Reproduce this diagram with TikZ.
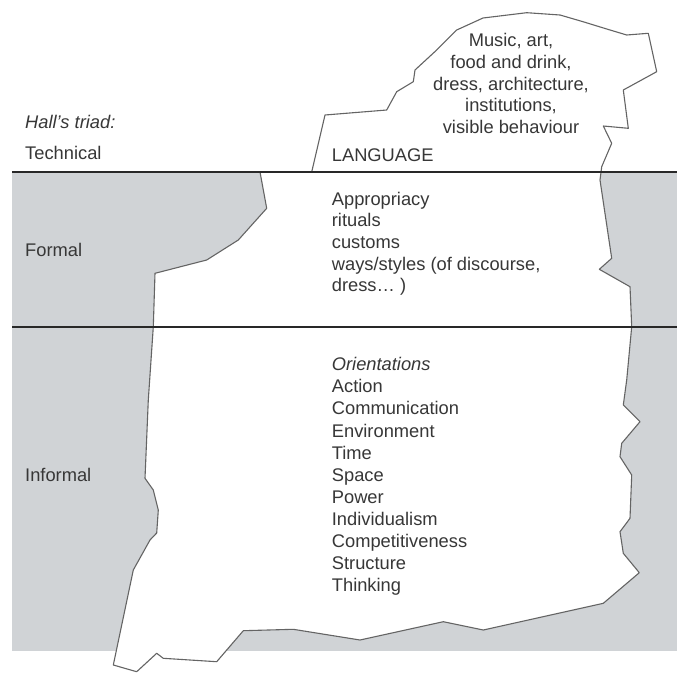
\documentclass[tikz,border=0pt]{standalone}
\usepackage{fontspec}
\setmainfont{Liberation Sans}
\definecolor{seagrey}{RGB}{208,211,214}
\definecolor{txtgrey}{RGB}{55,55,55}
\definecolor{edgegrey}{RGB}{100,100,100}
\definecolor{levelline}{RGB}{40,40,40}
\begin{document}
\begin{tikzpicture}[x=1pt,y=-1pt,
  txt/.style={anchor=base west,inner sep=0pt,text=txtgrey,font=\fontsize{18.3}{21}\selectfont},
  ctxt/.style={anchor=base,inner sep=0pt,text=txtgrey,font=\fontsize{18.3}{21}\selectfont},
  berg/.style={fill=white,draw=edgegrey,line width=1.1pt,line join=round},
  level/.style={draw=levelline,line width=2.2pt}]
\useasboundingbox (0,0) rectangle (677,672);
% water (grey area)
\fill[seagrey] (12,172) rectangle (677,651);
% iceberg outline
\path[berg] (311.7,172) -- (325,115) -- (386.7,110) -- (396.7,91.7) -- (413.3,81.7)
  -- (415,70) -- (436.7,50) -- (456.7,30) -- (483,18) -- (526.7,12.7) -- (560,15)
  -- (583,21.7) -- (610,30) -- (626.7,35) -- (648.3,33.3) -- (656.7,71.7)
  -- (623.3,90) -- (628.3,128.3) -- (603.3,126) -- (611.7,143.3) -- (601.7,166.7)
  -- (600,180) -- (611.7,258.3) -- (599.3,269.3) -- (630,286.7) -- (631.7,326.7)
  -- (626.7,380) -- (623.3,405) -- (640,421.7) -- (621.7,443.3) -- (620,456.7)
  -- (631.7,475) -- (630,518.3) -- (620,531.7) -- (623.3,553.3) -- (639.3,572.7)
  -- (603.3,603.3) -- (483.3,630) -- (443.3,621.7) -- (360,640) -- (293.3,629.3)
  -- (243.3,630.7) -- (216.7,661.7) -- (163.3,658.3) -- (156.7,653.3)
  -- (136.7,671.7) -- (113.3,665) -- (133.3,570) -- (150,540) -- (156.7,533)
  -- (158.3,510) -- (153.3,490) -- (145,478.3) -- (148.3,400) -- (153.3,326.7)
  -- (155,273.3) -- (206.7,260) -- (238.3,240) -- (266.7,208.3) -- (260,172) -- cycle;
% level lines
\coordinate (l1a) at (12,172); \coordinate (l1b) at (677,172);
\coordinate (l2a) at (12,327); \coordinate (l2b) at (677,327);
\draw[level] (l1a) -- (l1b);
\draw[level] (l2a) -- (l2b);
% left labels
\node[txt] (hall) at (25,128) {\itshape Hall's triad:};
\node[txt] (tech) at (25,159) {Technical};
\node[txt] (formal) at (25,256) {Formal};
\node[txt] (informal) at (25,481) {Informal};
% top of iceberg
\foreach \t [count=\i] in {{Music, art,},{food and drink,},{dress, architecture,},{institutions,},{visible behaviour}}
  \node[ctxt] (vis\i) at (511,46.7+21.7*\i-21.7) {\t};
\node[txt] (lang) at (331.7,161) {LANGUAGE};
% formal block
\foreach \t [count=\i] in {Appropriacy,rituals,customs,{ways/styles (of discourse,},{dress\ldots\ )}}
  \node[txt] (frm\i) at (331.7,205+21.7*\i-21.7) {\t};
% informal block
\node[txt] (ori) at (331.7,370.7) {\itshape Orientations};
\foreach \t [count=\i] in {Action,Communication,Environment,Time,Space,Power,Individualism,Competitiveness,Structure,Thinking}
  \node[txt] (inf\i) at (331.7,370.7+22.1*\i) {\t};
\end{tikzpicture}
\end{document}
